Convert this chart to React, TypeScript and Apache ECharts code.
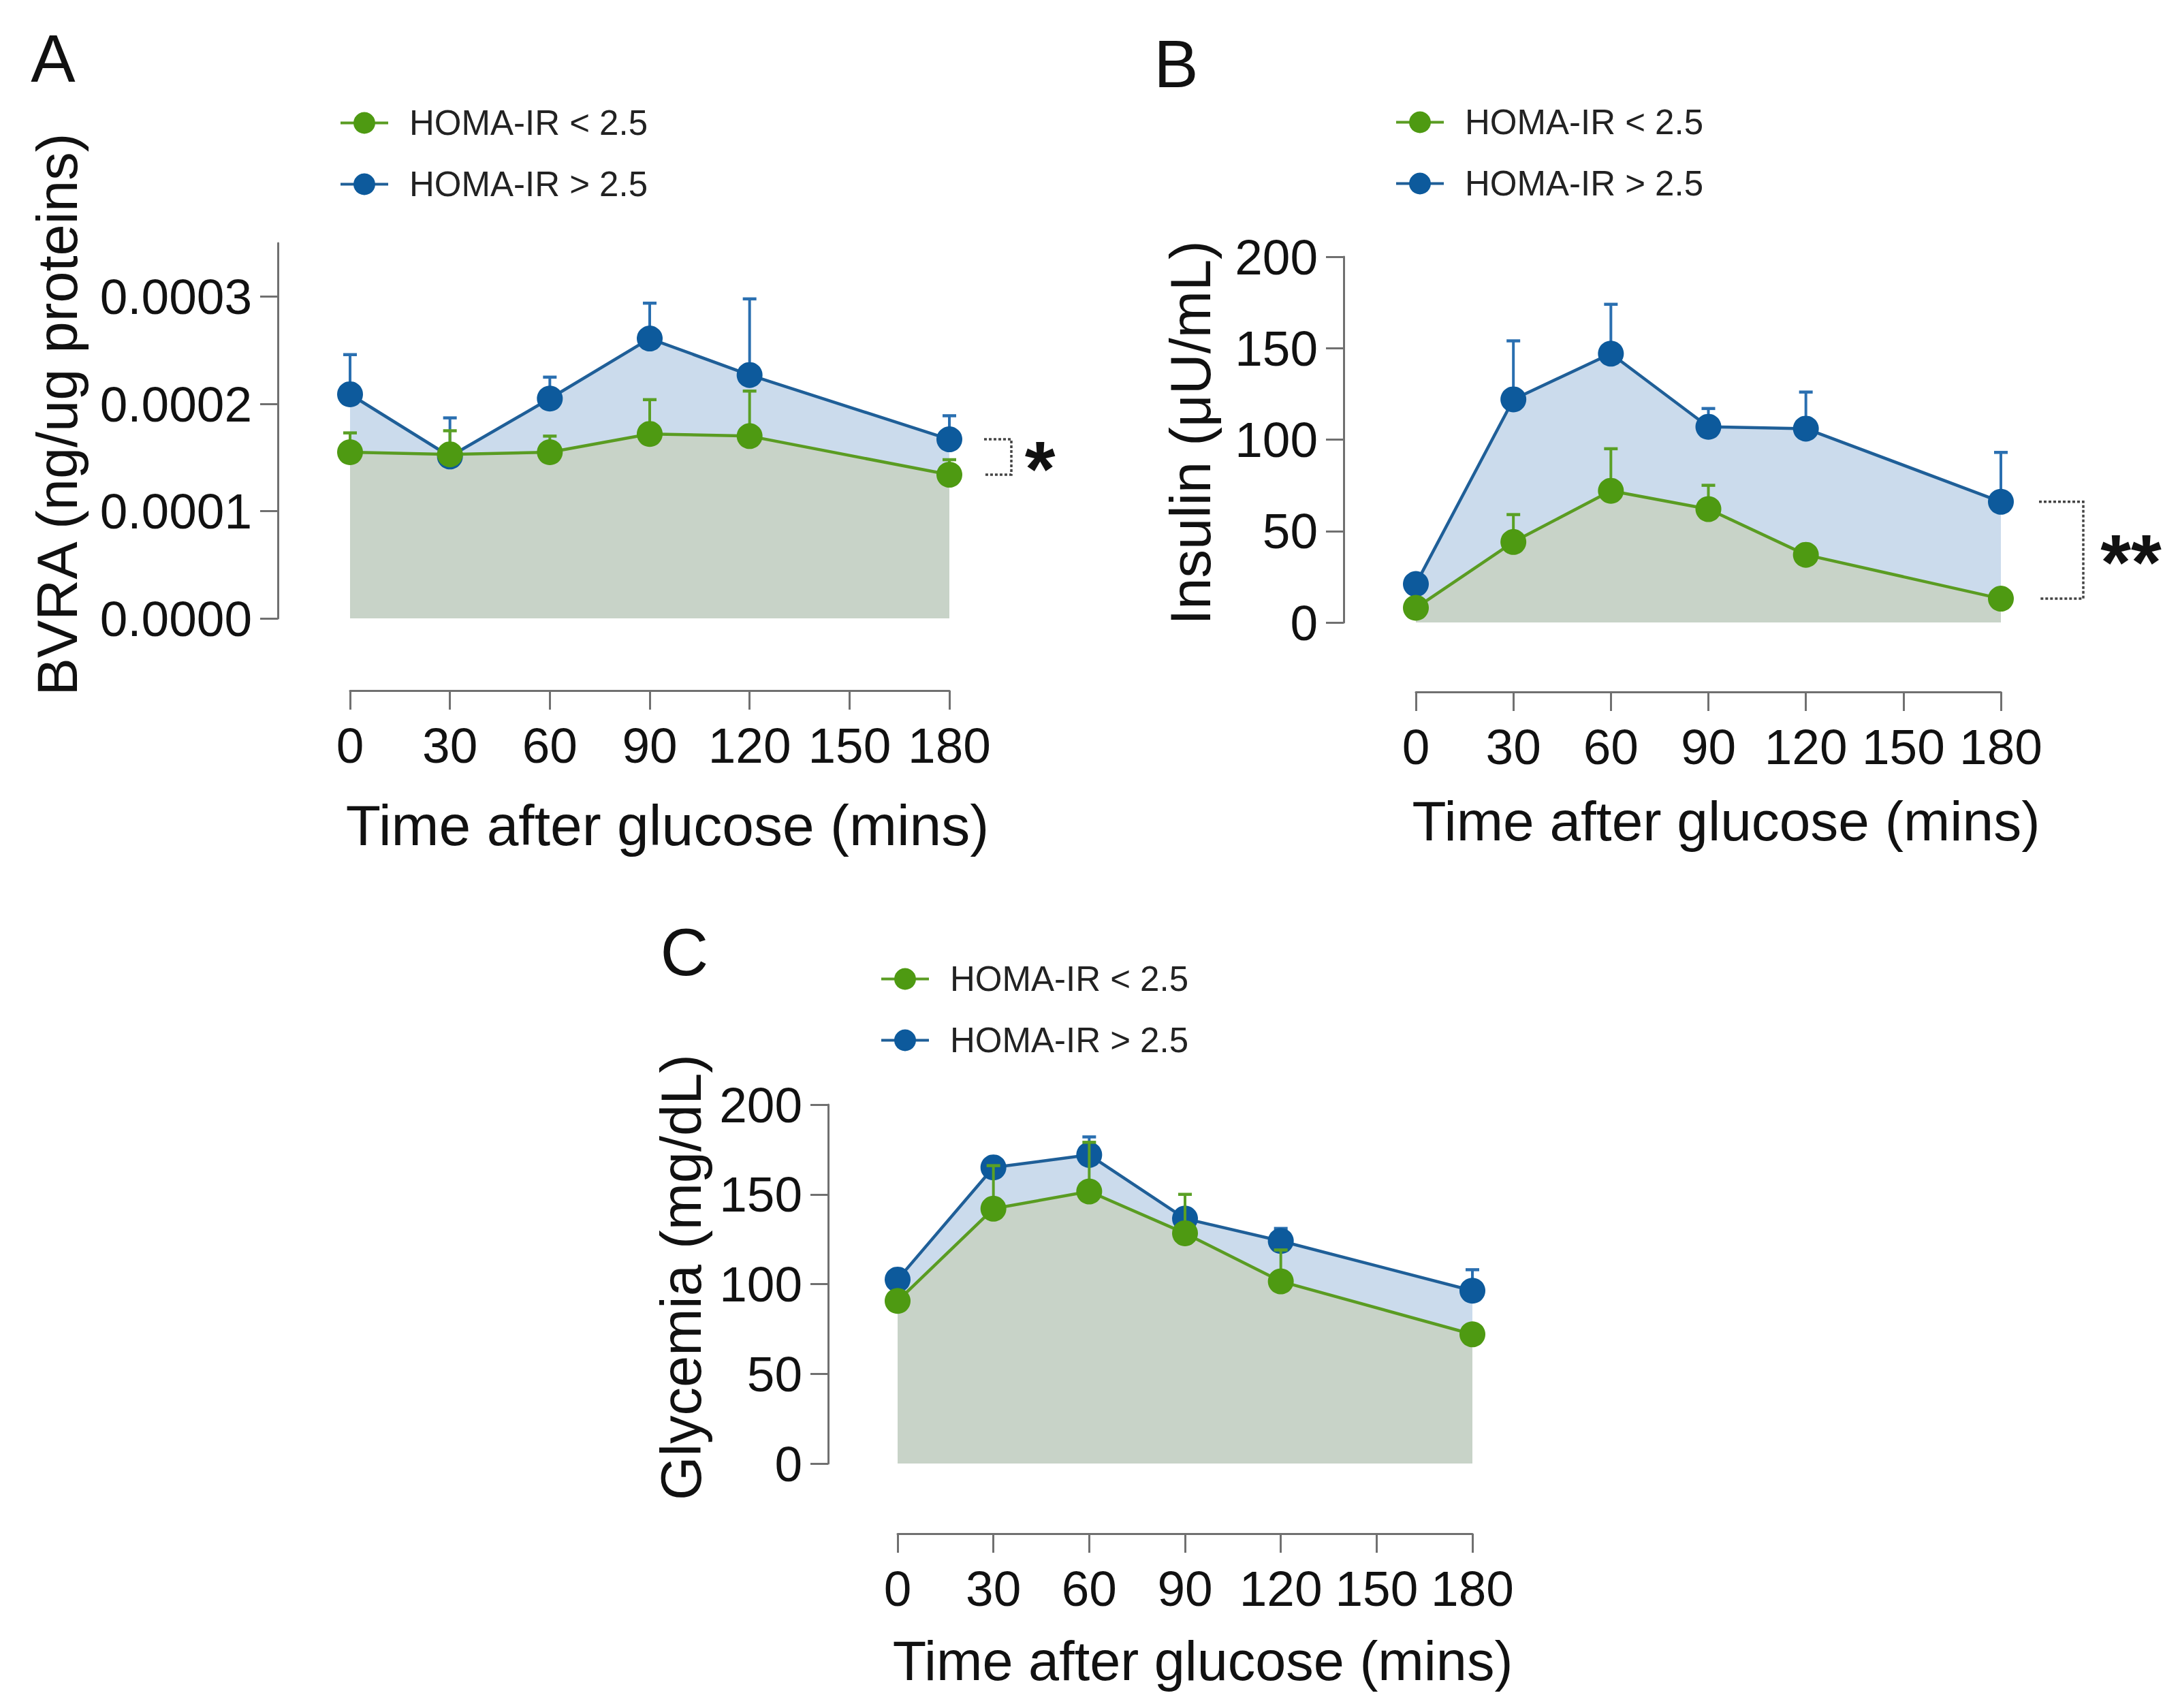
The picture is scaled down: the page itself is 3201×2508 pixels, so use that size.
import React, { useEffect, useRef } from "react";
import * as echarts from "echarts";

// ---------- data ----------
const timePoints = [0, 30, 60, 90, 120, 180];
const legendNames = ["HOMA-IR < 2.5", "HOMA-IR > 2.5"];
const xAxisName = "Time after glucose (mins)";
const yAxisNames = ["BVRA (ng/ug proteins)", "Insulin (\u03bcU/mL)", "Glycemia (mg/dL)"];
const panelLetters = ["A", "B", "C"];
const significance = ["*", "**", ""];

const bvraTicks = [0, 0.0001, 0.0002, 0.0003];
const insulinTicks = [0, 50, 100, 150, 200];
const glycemiaTicks = [0, 50, 100, 150, 200];

// Panel A: BVRA (mean and mean + SEM)
const bvraLowMean = [0.000155, 0.000153, 0.000155, 0.000172, 0.00017, 0.000134];
const bvraLowUpper = [0.000173, 0.000175, 0.00017, 0.000204, 0.000212, 0.000148];
const bvraHighMean = [0.000209, 0.000151, 0.000205, 0.000261, 0.000227, 0.000167];
const bvraHighUpper = [0.000246, 0.000187, 0.000225, 0.000294, 0.000298, 0.000189];

// Panel B: Insulin
const insLowMean = [8, 44, 72, 62, 37, 13];
const insLowUpper = [8, 59, 95, 75, 37, 13];
const insHighMean = [21, 122, 147, 107, 106, 66];
const insHighUpper = [21, 154, 174, 117, 126, 93];

// Panel C: Glycemia
const gluLowMean = [90.6, 142, 151.6, 128.3, 101.5, 72];
const gluLowUpper = [90.6, 166, 179, 150, 119, 72];
const gluHighMean = [102.5, 165, 172, 136.5, 124, 96.3];
const gluHighUpper = [102.5, 165, 182, 136.5, 131, 108];

// ---------- styles ----------
const FONT = "'Liberation Sans', Arial, Helvetica, sans-serif";
const GREEN = "#4e9a12";
const GREEN_LINE = "#5a9c22";
const GREEN_ERR = "#5aa025";
const BLUE = "#0d5a9c";
const BLUE_LINE = "#1f5f98";
const BLUE_ERR = "#2a6fb0";
const BLUE_AREA = "#cbdbec";
const GREEN_AREA = "#c8d3c8";
const AXIS = "#707070";
const TEXT = "#111111";

const panels = [
  {
    grid: { left: 514, top: 357, width: 880, height: 551 },
    yMax: 0.00035, yInterval: 0.0001, yTicks: bvraTicks,
    fmt: (v: number) => v.toFixed(4),
    yOffset: 106, xOffset: 106, yNameGap: 282, xNameGap: 156, yNameShift: 48, xNameSize: 84,
    legend: { left: 493, top: 150 },
    letter: { x: 78, y: 86 },
    bracket: { start: 51, vert: 91, text: 133 },
    low: { mean: bvraLowMean, upper: bvraLowUpper },
    high: { mean: bvraHighMean, upper: bvraHighUpper },
  },
  {
    grid: { left: 2079, top: 377, width: 859, height: 537 },
    yMax: 200, yInterval: 50, yTicks: insulinTicks,
    fmt: (v: number) => String(v),
    yOffset: 106, xOffset: 102, yNameGap: 183, xNameGap: 148, yNameShift: 20, xNameSize: 82,
    legend: { left: 2043, top: 149 },
    letter: { x: 1727, y: 94 },
    bracket: { start: 56, vert: 121, text: 191 },
    low: { mean: insLowMean, upper: insLowUpper },
    high: { mean: insHighMean, upper: insHighUpper },
  },
  {
    grid: { left: 1318, top: 1622, width: 844, height: 527 },
    yMax: 200, yInterval: 50, yTicks: glycemiaTicks,
    fmt: (v: number) => String(v),
    yOffset: 102, xOffset: 103, yNameGap: 174, xNameGap: 146, yNameShift: 20, xNameSize: 81,
    legend: { left: 1287, top: 1407 },
    letter: { x: 1005, y: 1398 },
    bracket: { start: 51, vert: 91, text: 133 },
    low: { mean: gluLowMean, upper: gluLowUpper },
    high: { mean: gluHighMean, upper: gluHighUpper },
  },
];

const pairs = (vals: number[]) => timePoints.map((t, i) => [t, vals[i]]);
const triples = (m: number[], u: number[]) => timePoints.map((t, i) => [t, m[i], u[i]]);

const errorBar = (color: string) => (params: any, api: any) => {
  const x = api.value(0);
  const m = api.value(1);
  const u = api.value(2);
  if (!(u > m)) return { type: "group", children: [] };
  const p0 = api.coord([x, m]);
  const p1 = api.coord([x, u]);
  return {
    type: "group",
    children: [
      { type: "line", shape: { x1: p0[0], y1: p0[1], x2: p1[0], y2: p1[1] }, style: { stroke: color, lineWidth: 4 } },
      { type: "line", shape: { x1: p1[0] - 10, y1: p1[1], x2: p1[0] + 10, y2: p1[1] }, style: { stroke: color, lineWidth: 4.5 } },
    ],
  };
};

function buildOption() {
  const grid: any[] = [];
  const xAxis: any[] = [];
  const yAxis: any[] = [];
  const legend: any[] = [];
  const series: any[] = [];
  const graphic: any[] = [];

  panels.forEach((p, i) => {
    grid.push({ ...p.grid });
    xAxis.push({
      gridIndex: i, type: "value", min: 0, max: 180, interval: 30, offset: p.xOffset,
      axisLine: { show: true, onZero: false, lineStyle: { color: AXIS, width: 3 } },
      axisTick: { show: true, inside: false, length: 28, lineStyle: { color: AXIS, width: 3 } },
      axisLabel: { fontSize: 73, color: TEXT, margin: 44, fontFamily: FONT },
      splitLine: { show: false },
      name: xAxisName, nameLocation: "middle", nameGap: p.xNameGap,
      nameTextStyle: { fontSize: p.xNameSize, color: TEXT, fontFamily: FONT, padding: [0, 0, 0, 52] },
    });
    yAxis.push({
      gridIndex: i, type: "value", min: 0, max: p.yMax, interval: p.yInterval, offset: p.yOffset,
      axisLine: { show: true, onZero: false, lineStyle: { color: AXIS, width: 3 } },
      axisTick: { show: true, inside: false, length: 26, lineStyle: { color: AXIS, width: 3 }, customValues: p.yTicks },
      axisLabel: { fontSize: 73, color: TEXT, margin: 38, fontFamily: FONT, customValues: p.yTicks, formatter: p.fmt },
      splitLine: { show: false },
      name: yAxisNames[i], nameLocation: "middle", nameGap: p.yNameGap,
      nameTextStyle: { fontSize: 83, color: TEXT, fontFamily: FONT, padding: [0, 0, 0, p.yNameShift] },
    });
    legend.push({
      left: p.legend.left, top: p.legend.top, orient: "vertical",
      itemWidth: 70, itemHeight: 40, itemGap: 39, selectedMode: false,
      data: legendNames,
      lineStyle: { width: 4 },
      textStyle: { fontSize: 51, color: "#222", fontFamily: FONT, padding: [0, 0, 0, 26] },
    });

    const axes = { xAxisIndex: i, yAxisIndex: i };
    series.push({
      ...axes, type: "line", name: "areaHigh" + i, data: pairs(p.high.mean), symbol: "none",
      lineStyle: { width: 0, opacity: 0 }, areaStyle: { color: BLUE_AREA, opacity: 1 }, z: 1, silent: true,
    });
    series.push({
      ...axes, type: "line", name: "areaLow" + i, data: pairs(p.low.mean), symbol: "none",
      lineStyle: { width: 0, opacity: 0 }, areaStyle: { color: GREEN_AREA, opacity: 1 }, z: 2, silent: true,
    });
    series.push({
      ...axes, type: "custom", name: "errHigh" + i, data: triples(p.high.mean, p.high.upper),
      encode: { x: 0, y: [1, 2] }, renderItem: errorBar(BLUE_ERR), z: 3, clip: false, silent: true,
    });
    series.push({
      ...axes, type: "line", name: legendNames[1], data: pairs(p.high.mean),
      symbol: "circle", symbolSize: 38, showSymbol: true,
      itemStyle: { color: BLUE }, lineStyle: { color: BLUE_LINE, width: 4.5 }, z: 4, silent: true,
    });
    series.push({
      ...axes, type: "custom", name: "errLow" + i, data: triples(p.low.mean, p.low.upper),
      encode: { x: 0, y: [1, 2] }, renderItem: errorBar(GREEN_ERR), z: 5, clip: false, silent: true,
    });
    series.push({
      ...axes, type: "line", name: legendNames[0], data: pairs(p.low.mean),
      symbol: "circle", symbolSize: 38, showSymbol: true,
      itemStyle: { color: GREEN }, lineStyle: { color: GREEN_LINE, width: 4.5 }, z: 6, silent: true,
    });

    const sig = significance[i];
    if (sig) {
      const last = timePoints.length - 1;
      const b = p.bracket;
      series.push({
        ...axes, type: "custom", name: "sig" + i,
        data: [[timePoints[last], p.high.mean[last], p.low.mean[last]]],
        encode: { x: 0, y: [1, 2] }, z: 7, clip: false, silent: true,
        renderItem: (params: any, api: any) => {
          const x = api.value(0);
          const pHi = api.coord([x, api.value(1)]);
          const pLo = api.coord([x, api.value(2)]);
          const x1 = pHi[0] + b.start;
          const x2 = pHi[0] + b.vert;
          return {
            type: "group",
            children: [
              {
                type: "polyline",
                shape: { points: [[x1, pHi[1]], [x2, pHi[1]], [x2, pLo[1]], [x1, pLo[1]]] },
                style: { stroke: "#444", lineWidth: 3.5, lineDash: [4, 3], fill: null },
              },
              {
                type: "text", x: pHi[0] + b.text, y: (pHi[1] + pLo[1]) / 2 + 17,
                style: { text: sig, fontSize: 115, fontWeight: "bold", fill: TEXT, align: "center", verticalAlign: "middle", fontFamily: FONT },
              },
            ],
          };
        },
      });
    }

    graphic.push({
      type: "text", x: p.letter.x, y: p.letter.y,
      style: { text: panelLetters[i], fontSize: 98, fill: TEXT, align: "center", verticalAlign: "middle", fontFamily: FONT },
    });
  });

  return {
    animation: false,
    backgroundColor: "#ffffff",
    textStyle: { fontFamily: FONT },
    grid, xAxis, yAxis, legend, series, graphic,
  };
}

export default function App() {
  const ref = useRef<HTMLDivElement>(null);
  useEffect(() => {
    if (!ref.current) return;
    const chart = echarts.init(ref.current, null, { renderer: "svg" });
    chart.setOption(buildOption() as any);
    return () => chart.dispose();
  }, []);
  return (
    <div
      ref={ref}
      style={{ position: "absolute", left: 0, top: 0, width: 3201, height: 2508, background: "#fff" }}
    />
  );
}
